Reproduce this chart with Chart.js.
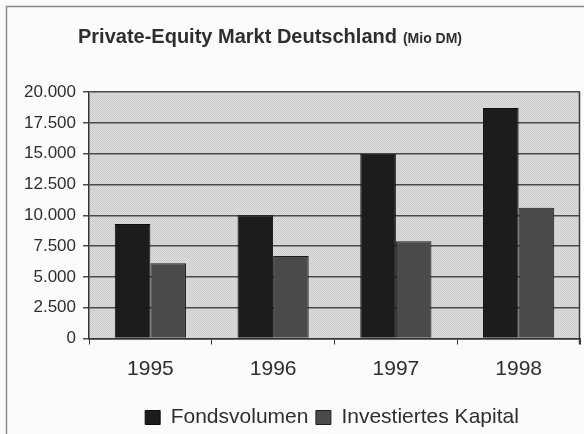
<!DOCTYPE html>
<html>
<head>
<meta charset="utf-8">
<script src="https://cdn.jsdelivr.net/npm/chart.js@4/dist/chart.umd.min.js"></script>
<style>
  html, body { margin: 0; padding: 0; background: #fbfbfb; }
  #wrap { width: 584px; height: 434px; position: relative; }
</style>
</head>
<body>
<div id="wrap"><canvas id="chart" width="584" height="434"></canvas></div>
<script>
const years = ['1995', '1996', '1997', '1998'];
const fondsvolumen = [9300, 10000, 15000, 18700];
const investiertesKapital = [6100, 6700, 7900, 10600];
const yTicks = [0, 2500, 5000, 7500, 10000, 12500, 15000, 17500, 20000];

const FONT = "'Liberation Sans', Arial, sans-serif";
const INK = '#2e2e2e';

// 1000er-Trennzeichen mit Punkt
function fmt(v) {
  return String(v).replace(/\B(?=(\d{3})+(?!\d))/g, '.');
}

// feines Raster fuer den Hintergrund der Zeichenflaeche
function stipple(ctx, a, b) {
  const c = document.createElement('canvas');
  c.width = 2; c.height = 2;
  const p = c.getContext('2d');
  p.fillStyle = a; p.fillRect(0, 0, 2, 2);
  p.fillStyle = b; p.fillRect(0, 0, 1, 1); p.fillRect(1, 1, 1, 1);
  return ctx.createPattern(c, 'repeat');
}

const frameAndTitle = {
  id: 'frameAndTitle',
  afterLayout(chart) {
    // Legende etwas nach rechts und unten ruecken
    chart.legend.left += 42;
    chart.legend.right += 42;
    chart.legend.top += 4;
    chart.legend.bottom += 4;
  },
  beforeDraw(chart) {
    const { ctx, chartArea: a } = chart;
    ctx.save();
    // Rahmen links und oben
    ctx.strokeStyle = '#8a8a8a';
    ctx.lineWidth = 1.5;
    ctx.beginPath();
    ctx.moveTo(6.5, 434);
    ctx.lineTo(6.5, 6.5);
    ctx.lineTo(584, 6.5);
    ctx.stroke();
    // Zeichenflaeche
    ctx.fillStyle = stipple(ctx, '#dcdcdc', '#cdcdcd');
    ctx.fillRect(a.left, a.top, a.right - a.left, a.bottom - a.top);
    ctx.restore();
  },
  afterDatasetsDraw(chart) {
    const { ctx, chartArea: a } = chart;
    ctx.save();
    // rechte und obere Kante der Zeichenflaeche
    ctx.strokeStyle = '#8c8c8c';
    ctx.lineWidth = 1;
    ctx.beginPath();
    ctx.moveTo(a.left, a.top + 0.5);
    ctx.lineTo(a.right - 0.5, a.top + 0.5);
    ctx.stroke();
    ctx.strokeStyle = '#3a3a3a';
    ctx.lineWidth = 1.5;
    ctx.beginPath();
    ctx.moveTo(a.right - 0.5, a.top);
    ctx.lineTo(a.right - 0.5, a.bottom + 6);
    ctx.stroke();
    ctx.restore();
  },
  afterDraw(chart) {
    const ctx = chart.ctx;
    ctx.save();
    const main = 'Private-Equity Markt Deutschland';
    const unit = '(Mio DM)';
    ctx.fillStyle = INK;
    ctx.textBaseline = 'alphabetic';
    ctx.font = 'bold 20px ' + FONT;
    const w1 = ctx.measureText(main).width;
    ctx.font = 'bold 14px ' + FONT;
    const w2 = ctx.measureText(unit).width;
    const gap = 6;
    let x = 270 - (w1 + gap + w2) / 2;
    ctx.font = 'bold 20px ' + FONT;
    ctx.fillText(main, x, 43);
    ctx.font = 'bold 14px ' + FONT;
    ctx.fillText(unit, x + w1 + gap, 43);
    ctx.restore();
  }
};

const ctx = document.getElementById('chart').getContext('2d');
new Chart(ctx, {
  type: 'bar',
  data: {
    labels: years,
    datasets: [
      {
        label: 'Fondsvolumen',
        data: fondsvolumen,
        backgroundColor: '#1c1c1c',
        borderColor: '#0e0e0e',
        borderWidth: 1
      },
      {
        label: 'Investiertes Kapital',
        data: investiertesKapital,
        backgroundColor: '#4a4a4a',
        borderColor: '#1e1e1e',
        borderWidth: 1
      }
    ]
  },
  options: {
    responsive: false,
    animation: false,
    layout: { padding: { top: 92, right: 4, bottom: 0, left: 0 } },
    datasets: {
      bar: { categoryPercentage: 0.58, barPercentage: 1.0 }
    },
    plugins: {
      title: { display: false },
      tooltip: { enabled: false },
      legend: {
        position: 'bottom',
        labels: {
          color: INK,
          font: { family: FONT, size: 21 },
          boxWidth: 15,
          boxHeight: 14,
          padding: 7.5
        }
      }
    },
    scales: {
      x: {
        afterFit(scale) { scale.height = 57; },
        grid: {
          drawOnChartArea: false,
          drawTicks: true,
          tickLength: 6,
          color: '#333'
        },
        border: { color: '#333', width: 1.5 },
        ticks: {
          color: INK,
          font: { family: FONT, size: 21 },
          padding: 12
        }
      },
      y: {
        min: 0,
        max: 20000,
        afterFit(scale) { scale.width = 89; },
        afterBuildTicks(scale) {
          scale.ticks = yTicks.map(v => ({ value: v }));
        },
        grid: {
          color: '#4a4a4a',
          lineWidth: 1.5,
          tickLength: 6
        },
        border: { color: '#333', width: 1.5 },
        ticks: {
          color: INK,
          font: { family: FONT, size: 17 },
          padding: 7,
          callback: v => fmt(v)
        }
      }
    }
  },
  plugins: [frameAndTitle]
});
</script>
</body>
</html>
